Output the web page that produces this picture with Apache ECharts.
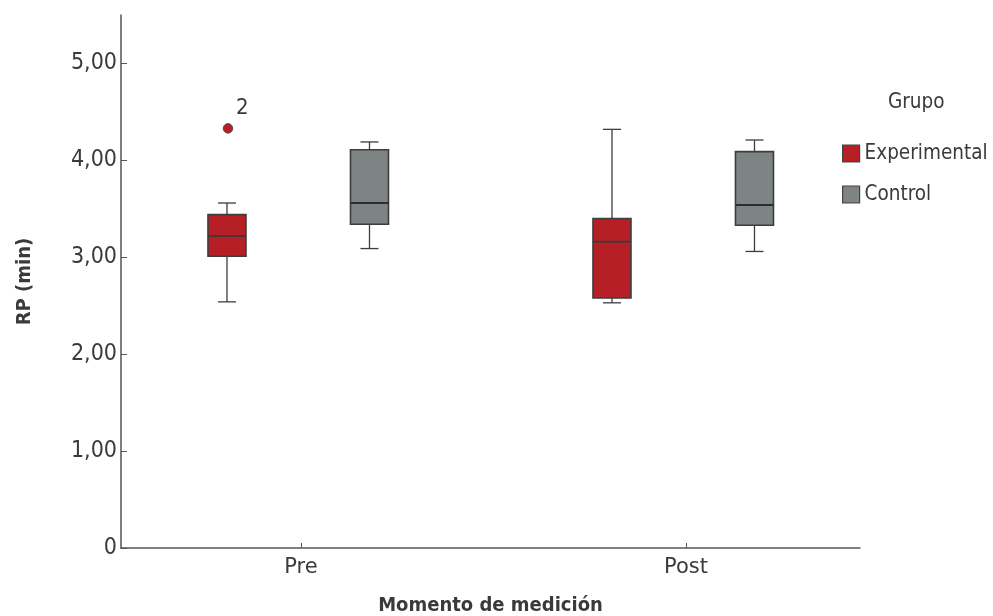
<!DOCTYPE html>
<html><head><meta charset="utf-8">
<script src="https://cdn.jsdelivr.net/npm/echarts@6/dist/echarts.min.js"></script>
<style>html,body{margin:0;padding:0;background:#fff}#c{width:993px;height:616px}</style>
</head><body><div id="c"></div>
<script>
const categories = ['Pre', 'Post'];
const groups = ['Experimental', 'Control'];
// per category: [min, Q1, median, Q3, max]
const experimental = [[2.54, 3.01, 3.22, 3.44, 3.56], [2.53, 2.58, 3.16, 3.40, 4.32]];
const control = [[3.09, 3.34, 3.56, 4.11, 4.19], [3.06, 3.33, 3.54, 4.09, 4.21]];
// outliers: [category index, value, case label]
const outliers = [[0, 4.33, '2']];
const yTicks = [0, 1, 2, 3, 4, 5];
const xTicks = [0, 1];

const FONT = "'DejaVu Sans Condensed', 'DejaVu Sans', sans-serif";
const FONT_W = "'DejaVu Sans', sans-serif";
const TXT = '#3a3a3a';
const RED = '#B71F27';
const GREY = '#7E8383';
const EDGE = '#3d3d3d';

function makeRender(offset, fill, medianColor) {
  return function (params, api) {
    const x = api.value(0);
    const pMin = api.coord([x, api.value(1)]);
    const pQ1 = api.coord([x, api.value(2)]);
    const pMed = api.coord([x, api.value(3)]);
    const pQ3 = api.coord([x, api.value(4)]);
    const pMax = api.coord([x, api.value(5)]);
    const cx = pMin[0] + offset;
    const hw = 19, cw = 9;
    const ls = { stroke: EDGE, lineWidth: 1.3 };
    return {
      type: 'group', children: [
        { type: 'line', shape: { x1: cx, y1: pMax[1], x2: cx, y2: pQ3[1] }, style: ls },
        { type: 'line', shape: { x1: cx, y1: pQ1[1], x2: cx, y2: pMin[1] }, style: ls },
        { type: 'line', shape: { x1: cx - cw, y1: pMax[1], x2: cx + cw, y2: pMax[1] }, style: ls },
        { type: 'line', shape: { x1: cx - cw, y1: pMin[1], x2: cx + cw, y2: pMin[1] }, style: ls },
        { type: 'rect', shape: { x: cx - hw, y: pQ3[1], width: 2 * hw, height: pQ1[1] - pQ3[1] },
          style: { fill: fill, stroke: EDGE, lineWidth: 1.6 } },
        { type: 'line', shape: { x1: cx - hw, y1: pMed[1], x2: cx + hw, y2: pMed[1] },
          style: { stroke: medianColor, lineWidth: 2 } }
      ]
    };
  };
}

const chart = echarts.init(document.getElementById('c'), null, { renderer: 'canvas' });
chart.setOption({
  animation: false,
  backgroundColor: '#fff',
  textStyle: { fontFamily: FONT },
  grid: { left: 121, right: 133, top: 15, bottom: 68, containLabel: false, outerBoundsMode: 'none' },
  legend: {
    data: groups, orient: 'vertical', left: 837, top: 138,
    itemWidth: 17, itemHeight: 17, itemGap: 20, icon: 'rect',
    itemStyle: { borderColor: '#444', borderWidth: 1.2 },
    textStyle: { fontSize: 20.5, color: TXT, fontFamily: FONT }
  },
  graphic: [{
    type: 'text', left: 888, top: 92,
    style: { text: 'Grupo', fontSize: 20.5, fill: TXT, fontFamily: FONT }
  }],
  xAxis: {
    type: 'value', min: -0.4675, max: 1.452,
    name: 'Momento de medición', nameLocation: 'middle', nameGap: 48,
    nameTextStyle: { fontSize: 20, fontWeight: 'bold', color: TXT, fontFamily: FONT },
    axisLine: { show: true, onZero: false, lineStyle: { color: '#555', width: 1.5 } },
    axisTick: { show: true, inside: true, length: 5, customValues: xTicks, lineStyle: { color: '#555' } },
    axisLabel: { customValues: xTicks, formatter: v => categories[Math.round(v)], fontSize: 21, color: TXT, margin: 9, fontFamily: FONT_W },
    splitLine: { show: false }
  },
  yAxis: {
    type: 'value', min: 0, max: 5.5,
    name: 'RP (min)', nameLocation: 'middle', nameGap: 86,
    nameTextStyle: { fontSize: 20, fontWeight: 'bold', color: TXT, fontFamily: FONT },
    axisLine: { show: true, onZero: false, lineStyle: { color: '#555', width: 1.5 } },
    axisTick: { show: true, inside: true, length: 6, customValues: yTicks, lineStyle: { color: '#555' } },
    axisLabel: { customValues: yTicks, formatter: v => v === 0 ? '0' : v.toFixed(2).replace('.', ','), fontSize: 23, color: TXT, margin: 4, fontFamily: FONT },
    splitLine: { show: false }
  },
  series: [
    {
      name: 'Experimental', type: 'custom',
      itemStyle: { color: RED },
      renderItem: makeRender(-74, RED, '#4a3434'),
      encode: { x: 0, y: [1, 2, 3, 4, 5] },
      data: experimental.map((d, i) => [i].concat(d))
    },
    {
      name: 'Control', type: 'custom',
      itemStyle: { color: GREY },
      renderItem: makeRender(68.5, GREY, '#2e2e2e'),
      encode: { x: 0, y: [1, 2, 3, 4, 5] },
      data: control.map((d, i) => [i].concat(d))
    },
    {
      name: 'outliers', type: 'custom',
      renderItem: function (params, api) {
        const p = api.coord([api.value(0), api.value(1)]);
        const cx = p[0] - 73;
        return {
          type: 'group', children: [
            { type: 'circle', shape: { cx: cx, cy: p[1], r: 4.8 }, style: { fill: RED, stroke: '#555', lineWidth: 1 } },
            { type: 'text', x: cx + 8, y: p[1] - 9, style: { text: outliers[params.dataIndex][2], fontSize: 22, fill: TXT, fontFamily: FONT, textVerticalAlign: 'bottom', textAlign: 'left' } }
          ]
        };
      },
      encode: { x: 0, y: 1 },
      data: outliers.map(o => [o[0], o[1]])
    }
  ]
});
</script></body></html>
